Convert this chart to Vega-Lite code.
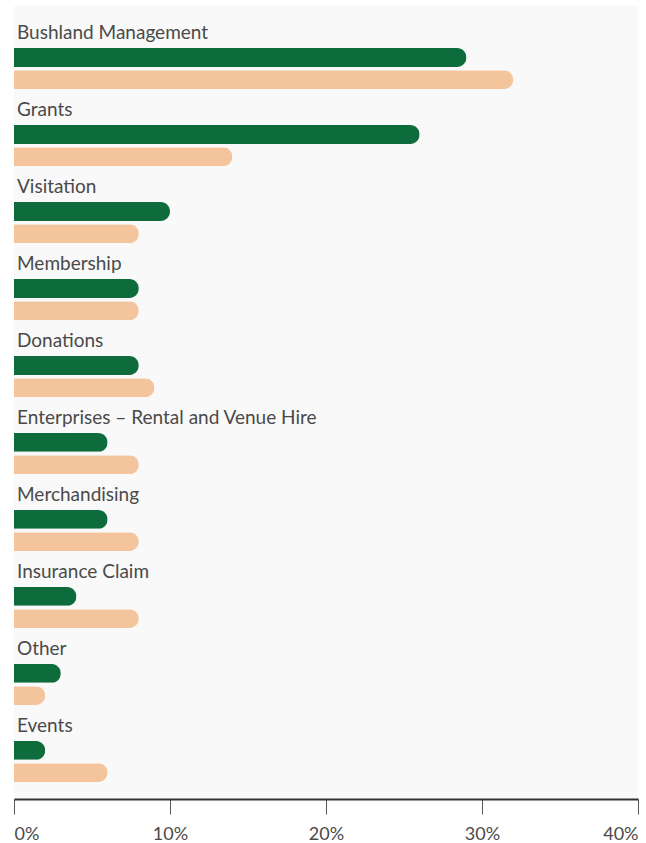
{
  "$schema": "https://vega.github.io/schema/vega-lite/v6.json",
  "autosize": "none",
  "width": 624,
  "height": 793,
  "padding": {"left": 14, "top": 6, "right": 8, "bottom": 44},
  "background": "#ffffff",
  "config": {
    "view": {"stroke": null, "fill": "#f9f9f9"},
    "font": "Lato"
  },
  "data": {
    "values": [
      {"category": "Bushland Management", "series": "Series 1", "share": 0.29},
      {"category": "Bushland Management", "series": "Series 2", "share": 0.32},
      {"category": "Grants", "series": "Series 1", "share": 0.26},
      {"category": "Grants", "series": "Series 2", "share": 0.14},
      {"category": "Visitation", "series": "Series 1", "share": 0.10},
      {"category": "Visitation", "series": "Series 2", "share": 0.08},
      {"category": "Membership", "series": "Series 1", "share": 0.08},
      {"category": "Membership", "series": "Series 2", "share": 0.08},
      {"category": "Donations", "series": "Series 1", "share": 0.08},
      {"category": "Donations", "series": "Series 2", "share": 0.09},
      {"category": "Enterprises – Rental and Venue Hire", "series": "Series 1", "share": 0.06},
      {"category": "Enterprises – Rental and Venue Hire", "series": "Series 2", "share": 0.08},
      {"category": "Merchandising", "series": "Series 1", "share": 0.06},
      {"category": "Merchandising", "series": "Series 2", "share": 0.08},
      {"category": "Insurance Claim", "series": "Series 1", "share": 0.04},
      {"category": "Insurance Claim", "series": "Series 2", "share": 0.08},
      {"category": "Other", "series": "Series 1", "share": 0.03},
      {"category": "Other", "series": "Series 2", "share": 0.02},
      {"category": "Events", "series": "Series 1", "share": 0.02},
      {"category": "Events", "series": "Series 2", "share": 0.06}
    ]
  },
  "encoding": {
    "y": {
      "field": "category",
      "type": "nominal",
      "sort": null,
      "scale": {"paddingInner": 0.4675, "paddingOuter": 0.384, "align": 0.712},
      "axis": null
    }
  },
  "layer": [
    {
      "mark": {"type": "bar", "cornerRadiusEnd": 9.4},
      "encoding": {
        "x": {
          "field": "share",
          "type": "quantitative",
          "scale": {"domain": [0, 0.4], "nice": false},
          "axis": {
            "title": null,
            "grid": false,
            "values": [0, 0.1, 0.2, 0.3, 0.4],
            "format": ".0%",
            "labelFlush": true,
            "domainColor": "#333333",
            "domainWidth": 2,
            "tickColor": "#555555",
            "tickWidth": 1,
            "tickSize": 15,
            "labelFontSize": 18,
            "labelColor": "#4a4a4a",
            "labelPadding": 11,
            "labelFont": "Lato"
          }
        },
        "yOffset": {
          "field": "series",
          "type": "nominal",
          "scale": {"domain": ["Series 1", "Series 2"], "paddingInner": 0.15, "paddingOuter": 0}
        },
        "color": {
          "field": "series",
          "type": "nominal",
          "scale": {"domain": ["Series 1", "Series 2"], "range": ["#0e6b3c", "#f4c49c"]},
          "legend": null
        }
      }
    },
    {
      "transform": [{"filter": "datum.series === 'Series 1'"}],
      "mark": {
        "type": "text",
        "align": "left",
        "baseline": "alphabetic",
        "dx": 3,
        "dy": -29.5,
        "fontSize": 19,
        "color": "#4a4a4a",
        "font": "Lato"
      },
      "encoding": {
        "x": {"datum": 0, "type": "quantitative"},
        "text": {"field": "category"}
      }
    }
  ]
}
